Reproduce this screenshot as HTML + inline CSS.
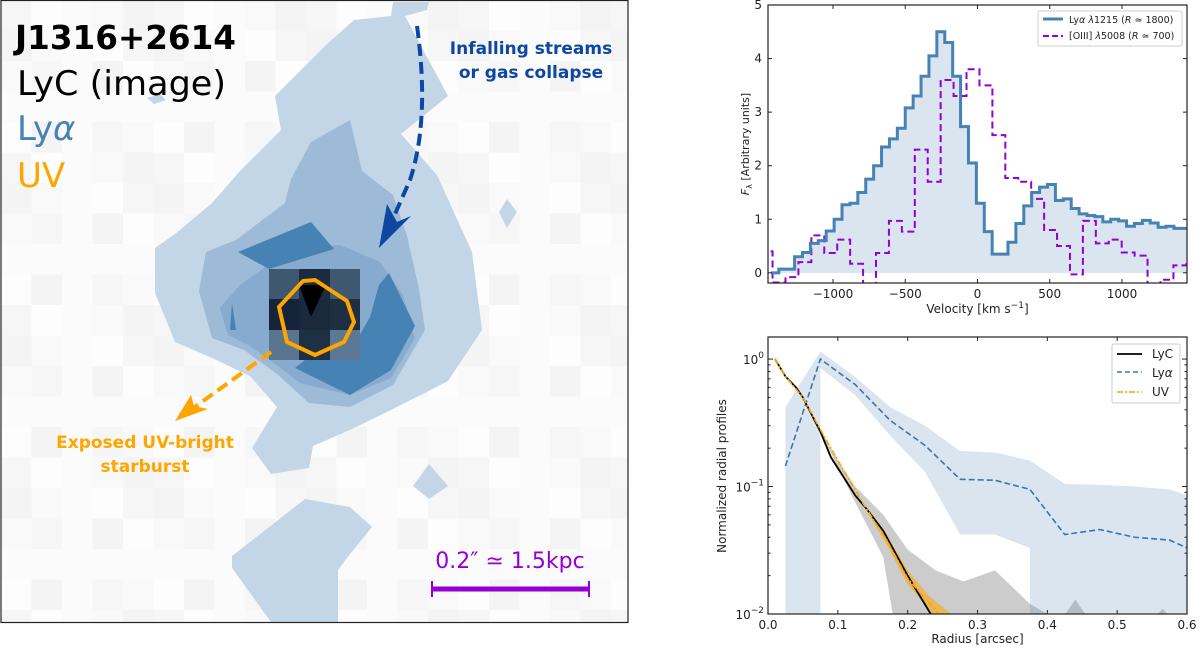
<!DOCTYPE html>
<html><head><meta charset="utf-8"><style>
html,body{margin:0;padding:0;background:#fff;}
svg{display:block;font-family:"DejaVu Sans","Liberation Sans",sans-serif;}
</style></head><body>
<svg id="fig" width="1200" height="649" viewBox="0 0 1200 649" xmlns="http://www.w3.org/2000/svg">
<defs><clipPath id="iclip"><rect x="1" y="0" width="627" height="623"/></clipPath></defs>
<g id="imgpanel">
  <rect x="1" y="0" width="627" height="623" fill="#fafafa"/>
  <g id="pix" clip-path="url(#iclip)"></g>
  <polygon fill="#c3d6e8" points="393,2 429,2 427,10 405,16 448,96 401,134 437,175 472,252 482,330 448,381 393,409 352,429 313,446 309,468 271,474 252,448 277,407 250,376 212,358 175,342 155,293 155,248 175,234 212,203 240,171 281,130 275,96 326,45 354,20 391,16"/>
  <polygon fill="#c3d6e8" points="499,212 507,199 517,212 507,228"/>
  <polygon fill="#c3d6e8" points="413,486 429,464 448,486 429,499"/>
  <polygon fill="#c3d6e8" points="232,556 305,499 350,507 372,527 350,554 338,570 338,622 271,622 232,568"/>
  <polygon fill="#c3d6e8" points="147,98 160,94 166,100 154,104"/>
  <polygon fill="#9dbad7" points="311,142 350,120 362,171 393,195 407,236 419,289 425,330 393,385 350,407 309,403 277,374 244,350 212,338 199,291 206,252 236,240 285,203 291,179"/>
  <polygon fill="#86abcf" points="268,265 300,248 340,245 380,262 403,295 415,338 391,378 350,395 300,383 270,360 248,345 228,335 220,308 240,285"/>
  <polygon fill="#4682b4" points="238,252 311,222 334,249 269,269"/>
  <polygon fill="#4682b4" points="389,273 415,326 391,370 350,395 295,368 322,346 358,338 370,317 379,285"/>
  <polygon fill="#4682b4" points="232,303 236,330 230,330"/>
  <g>
    <rect x="269" y="269" width="30" height="30" fill="#3d5870"/>
    <rect x="299" y="269" width="31" height="30" fill="#1c2c3e"/>
    <rect x="330" y="269" width="30" height="30" fill="#3d5870"/>
    <rect x="269" y="299" width="30" height="31" fill="#16243a"/>
    <rect x="299" y="299" width="31" height="31" fill="#1a2a3c"/>
    <rect x="330" y="299" width="30" height="31" fill="#1e2f42"/>
    <rect x="269" y="330" width="30" height="30" fill="#5a7590"/>
    <rect x="299" y="330" width="31" height="30" fill="#1e3044"/>
    <rect x="330" y="330" width="30" height="30" fill="#5d7892"/>
  </g>
  <polygon fill="#000" points="299,285 326,285 311,317"/>
  <polygon fill="none" stroke="#ffa500" stroke-width="4" points="315,280 347,301 354,322 344,342 315,355 287,342 279,307 303,281"/>
  <path d="M417,26 Q430,120 410,180 L395,214" fill="none" stroke="#0d47a1" stroke-width="4" stroke-dasharray="12,6"/>
  <polygon fill="#0d47a1" points="379,248 387,204 397,222 411,216"/>
  <line x1="271" y1="352" x2="192" y2="409" stroke="#ffa500" stroke-width="4" stroke-dasharray="12,6"/>
  <polygon fill="#ffa500" points="175,421 191,395 194,406 208,409"/>
  <text x="15" y="49" font-size="33" font-weight="bold" fill="#000" textLength="221" lengthAdjust="spacingAndGlyphs">J1316+2614</text>
  <text x="17" y="95" font-size="34" fill="#000" textLength="209" lengthAdjust="spacingAndGlyphs">LyC (image)</text>
  <text x="17" y="140" font-size="34" fill="#4682b4">Ly<tspan font-style="italic">α</tspan></text>
  <text x="17" y="187" font-size="34" fill="#ffa500">UV</text>
  <text font-size="17" font-weight="bold" fill="#0d47a1" text-anchor="middle"><tspan x="531" y="54">Infalling streams</tspan><tspan x="531" y="78">or gas collapse</tspan></text>
  <text font-size="17" font-weight="bold" fill="#ffa500" text-anchor="middle"><tspan x="145" y="448">Exposed UV-bright</tspan><tspan x="145" y="472">starburst</tspan></text>
  <text x="510" y="568" font-size="22" fill="#9400d3" text-anchor="middle">0.2″ ≃ 1.5kpc</text>
  <g stroke="#9400d3">
    <line x1="432" y1="589" x2="589" y2="589" stroke-width="5"/>
    <line x1="432" y1="581" x2="432" y2="597" stroke-width="2"/>
    <line x1="589" y1="581" x2="589" y2="597" stroke-width="2"/>
  </g>
  <rect x="1" y="0.5" width="627" height="622" fill="none" stroke="#222" stroke-width="1.2"/>
</g>
<g id="spec"></g>
<g id="prof"></g>
</svg>
<script>
// ---------- spectrum data ----------
const lyaStart = -1430, lyaWidth = 54.7;
const lyaFlux = [0.0,0.07,0.07,0.3,0.38,0.55,0.6,0.78,1.0,1.27,1.3,1.5,1.75,2.0,2.35,2.5,2.7,3.08,3.3,3.67,4.05,4.5,4.3,3.67,2.73,2.05,1.3,0.77,0.35,0.35,0.57,0.92,1.25,1.5,1.6,1.65,1.35,1.38,1.2,1.1,1.07,1.05,0.95,1.0,0.97,0.87,0.92,0.98,0.93,0.85,0.87,0.83,0.83];
const oiiiStart = -1508, oiiiWidth = 89.5;
const oiiiFlux = [0.4,-0.18,-0.08,0.2,0.7,0.37,0.62,0.17,-0.3,0.37,0.97,0.77,2.3,1.7,3.6,3.3,3.8,3.5,2.57,1.77,1.7,1.38,0.8,0.5,-0.03,0.97,0.55,0.62,0.38,0.32,-0.2,-0.13,0.14,0.25];
const specXTicks = [-1000,-500,0,500,1000];
const specYTicks = [0,1,2,3,4,5];
// ---------- profile data ----------
const lycR = [0.01,0.025,0.04,0.05,0.075,0.09,0.125,0.14,0.165,0.2,0.233,0.245];
const lycV = [1.0,0.73,0.6,0.5,0.27,0.17,0.085,0.068,0.045,0.02,0.01,0.008];
const uvR = [0.01,0.025,0.05,0.075,0.1,0.14,0.17,0.2,0.245,0.26];
const uvV = [1.0,0.73,0.5,0.28,0.16,0.068,0.038,0.019,0.01,0.008];
const lyaR = [0.025,0.075,0.125,0.175,0.225,0.275,0.325,0.375,0.425,0.475,0.525,0.575,0.6];
const lyaV = [0.145,1.0,0.63,0.33,0.21,0.114,0.112,0.095,0.042,0.046,0.04,0.038,0.033];
const lyaHi = [0.42,1.15,0.72,0.42,0.3,0.19,0.185,0.16,0.105,0.103,0.1,0.095,0.085];
const lyaLoR = [0.025,0.075,0.075,0.125,0.175,0.225,0.275,0.325,0.375,0.375,0.6];
const lyaLo = [0.005,0.005,0.85,0.52,0.25,0.13,0.042,0.042,0.033,0.005,0.005];
const lycHiR = [0.075,0.1,0.125,0.165,0.2,0.24,0.28,0.325,0.375,0.4,0.42,0.44,0.46,0.55,0.565,0.58];
const lycHi = [0.28,0.16,0.1,0.06,0.032,0.022,0.018,0.022,0.012,0.01,0.009,0.013,0.009,0.009,0.011,0.009];
const lycLoR = [0.075,0.125,0.165,0.18,0.6];
const lycLo = [0.27,0.075,0.028,0.009,0.005];
const uvHiR = [0.14,0.17,0.2,0.23,0.262];
const uvHi = [0.07,0.042,0.022,0.014,0.01];
const uvLoR = [0.14,0.17,0.2,0.23,0.24];
const uvLo = [0.066,0.035,0.017,0.011,0.009];
const profXTicks = [0,0.1,0.2,0.3,0.4,0.5,0.6];
const profYTicks = [1,0.1,0.01];
const profYLabels = ["0","−1","−2"];

const NS = "http://www.w3.org/2000/svg";
function mk(tag, attrs, parent){const e=document.createElementNS(NS,tag);for(const k in attrs)e.setAttribute(k,attrs[k]);parent.appendChild(e);return e;}

// background pixels (faint)
const pixG=document.getElementById('pix');
const shades=['#f6f6f6','#f9f9f9','#fdfdfd','#f4f4f4','#fbfbfb'];
for(let i=0;i<21;i++)for(let j=0;j<21;j++){
  const r=mk('rect',{x:1+i*30.5,y:j*30.5,width:30.5,height:30.5,fill:shades[(i*7+j*3+i*j)%5]},pixG);
  
  
}

// ---------- spectrum panel ----------
const S={l:768,r:1187,t:5,b:283,x0:-1450,x1:1450,y0:-0.19,y1:5};
const sx=v=>S.l+(v-S.x0)/(S.x1-S.x0)*(S.r-S.l);
const sy=v=>S.b-(v-S.y0)/(S.y1-S.y0)*(S.b-S.t);
const spec=document.getElementById('spec');
const scp=mk('clipPath',{id:'sclip'},spec);mk('rect',{x:S.l,y:S.t,width:S.r-S.l,height:S.b-S.t},scp);
function stepPath(start,w,vals){let d='';vals.forEach((v,i)=>{const a=sx(start+i*w),b=sx(start+(i+1)*w);d+=(i?'L':'M')+a+','+sy(v)+'L'+b+','+sy(v);});return d;}
const lyaD=stepPath(lyaStart,lyaWidth,lyaFlux);
const fillEnd=lyaStart+lyaFlux.length*lyaWidth;
const fill=mk('path',{d:lyaD+'L'+sx(fillEnd)+','+sy(0)+'L'+sx(lyaStart)+','+sy(0)+'Z',fill:'#dae5f0','clip-path':'url(#sclip)'},spec);


const ol=mk('path',{d:stepPath(oiiiStart,oiiiWidth,oiiiFlux),fill:'none',stroke:'#9400d3','stroke-width':2,'stroke-dasharray':'7,4','clip-path':'url(#sclip)'},spec);


const ll=mk('path',{d:lyaD,fill:'none',stroke:'#4682b4','stroke-width':3,'clip-path':'url(#sclip)'},spec);


mk('rect',{x:S.l,y:S.t,width:S.r-S.l,height:S.b-S.t,fill:'none',stroke:'#222','stroke-width':1.2},spec);
specXTicks.forEach(t=>{const x=sx(t);
  mk('line',{x1:x,x2:x,y1:S.b,y2:S.b-4,stroke:'#222'},spec);mk('line',{x1:x,x2:x,y1:S.t,y2:S.t+4,stroke:'#222'},spec);
  const tx=mk('text',{x:x,y:S.b+15,'font-size':12,'text-anchor':'middle',fill:'#222'},spec);tx.textContent=String(t).replace('-','−');
  
  });
specYTicks.forEach(t=>{const y=sy(t);
  mk('line',{x1:S.l,x2:S.l+4,y1:y,y2:y,stroke:'#222'},spec);mk('line',{x1:S.r,x2:S.r-4,y1:y,y2:y,stroke:'#222'},spec);
  const tx=mk('text',{x:S.l-6,y:y+4,'font-size':12,'text-anchor':'end',fill:'#222'},spec);tx.textContent=t;
  
  });
let t1=mk('text',{x:(S.l+S.r)/2,y:313,'font-size':12,'text-anchor':'middle',fill:'#222'},spec);
t1.innerHTML='Velocity [km s<tspan dy="-5" font-size="9">−1</tspan><tspan dy="5">]</tspan>';


let t2=mk('text',{x:0,y:0,'font-size':11,'text-anchor':'middle',fill:'#222',transform:'translate(749,144) rotate(-90)'},spec);
t2.innerHTML='<tspan font-style="italic">F</tspan><tspan font-size="8" dy="3">λ</tspan><tspan dy="-3"> [Arbitrary units]</tspan>';


const lg=mk('g',{},spec);


mk('rect',{x:1038,y:11,width:144,height:35,fill:'#fff',stroke:'#ccc',rx:2},lg);
mk('line',{x1:1043,x2:1063,y1:19,y2:19,stroke:'#4682b4','stroke-width':3},lg);
mk('line',{x1:1043,x2:1063,y1:36,y2:36,stroke:'#9400d3','stroke-width':2,'stroke-dasharray':'6,3'},lg);
let l1=mk('text',{x:1069,y:23,'font-size':9.5,fill:'#222'},lg);l1.innerHTML='Ly<tspan font-style="italic">α λ</tspan>1215 (<tspan font-style="italic">R</tspan> ≃ 1800)';
let l2=mk('text',{x:1069,y:39,'font-size':9.5,fill:'#222'},lg);l2.innerHTML='[OIII] <tspan font-style="italic">λ</tspan>5008 (<tspan font-style="italic">R</tspan> ≃ 700)';

// ---------- profile panel ----------
const P={l:768,r:1187,t:337,b:614,x0:0,x1:0.6,ly0:-2,ly1:0.173};
const px=v=>P.l+(v-P.x0)/(P.x1-P.x0)*(P.r-P.l);
const py=v=>P.b-(Math.log10(v)-P.ly0)/(P.ly1-P.ly0)*(P.b-P.t);
const prof=document.getElementById('prof');
const cp=mk('clipPath',{id:'pclip'},prof);mk('rect',{x:P.l,y:P.t,width:P.r-P.l,height:P.b-P.t},cp);
function line(xs,ys){return xs.map((x,i)=>(i?'L':'M')+px(x)+','+py(ys[i])).join('');}
function band(xh,yh,xl,yl){let d=line(xh,yh);for(let i=xl.length-1;i>=0;i--)d+='L'+px(xl[i])+','+py(yl[i]);return d+'Z';}
let e;
e=mk('path',{d:band(lyaR,lyaHi,lyaLoR,lyaLo),fill:'#dae5f0','clip-path':'url(#pclip)'},prof);


e=mk('path',{d:band(lycHiR,lycHi,lycLoR,lycLo),fill:'rgba(128,128,128,0.4)','clip-path':'url(#pclip)'},prof);


e=mk('path',{d:band(uvHiR,uvHi,uvLoR,uvLo),fill:'rgba(255,165,0,0.55)','clip-path':'url(#pclip)'},prof);


e=mk('path',{d:line(lyaR,lyaV),fill:'none',stroke:'#3b75af','stroke-width':1.6,'stroke-dasharray':'6,3','clip-path':'url(#pclip)'},prof);


e=mk('path',{d:line(lycR,lycV),fill:'none',stroke:'#000','stroke-width':1.8,'clip-path':'url(#pclip)'},prof);


e=mk('path',{d:line(uvR,uvV),fill:'none',stroke:'#ffa500','stroke-width':1.6,'stroke-dasharray':'6,2,2,2','clip-path':'url(#pclip)'},prof);


mk('rect',{x:P.l,y:P.t,width:P.r-P.l,height:P.b-P.t,fill:'none',stroke:'#222','stroke-width':1.2},prof);
profXTicks.forEach(t=>{const x=px(t);
  mk('line',{x1:x,x2:x,y1:P.b,y2:P.b-4,stroke:'#222'},prof);mk('line',{x1:x,x2:x,y1:P.t,y2:P.t+4,stroke:'#222'},prof);
  const tx=mk('text',{x:x,y:P.b+15,'font-size':12,'text-anchor':'middle',fill:'#222'},prof);tx.textContent=t.toFixed(1);
  
  });
profYTicks.forEach((t,i)=>{const y=py(t);
  mk('line',{x1:P.l,x2:P.l+5,y1:y,y2:y,stroke:'#222'},prof);mk('line',{x1:P.r,x2:P.r-5,y1:y,y2:y,stroke:'#222'},prof);
  const tx=mk('text',{x:P.l-4,y:y+5,'font-size':12,'text-anchor':'end',fill:'#222'},prof);
  tx.innerHTML='10<tspan dy="-6" font-size="9">'+profYLabels[i]+'</tspan>';
  
  });
[0.01,0.1].forEach(d=>{for(let k=2;k<=9;k++){const v=d*k;if(py(v)<P.t)continue;const y=py(v);
  mk('line',{x1:P.l,x2:P.l+2.5,y1:y,y2:y,stroke:'#222'},prof);mk('line',{x1:P.r,x2:P.r-2.5,y1:y,y2:y,stroke:'#222'},prof);}});
e=mk('text',{x:(P.l+P.r)/2,y:643,'font-size':12,'text-anchor':'middle',fill:'#222'},prof);e.textContent='Radius [arcsec]';


e=mk('text',{x:0,y:0,'font-size':12,'text-anchor':'middle',fill:'#222',transform:'translate(726,476) rotate(-90)'},prof);e.textContent='Normalized radial profiles';


const lg2=mk('g',{},prof);


mk('rect',{x:1112,y:344,width:68,height:59,fill:'#fff',stroke:'#ccc',rx:2},lg2);
mk('line',{x1:1117,x2:1142,y1:354,y2:354,stroke:'#000','stroke-width':1.8},lg2);
mk('line',{x1:1117,x2:1142,y1:372,y2:372,stroke:'#3b75af','stroke-width':1.6,'stroke-dasharray':'5,3'},lg2);
mk('line',{x1:1117,x2:1142,y1:392,y2:392,stroke:'#ffa500','stroke-width':1.6,'stroke-dasharray':'6,2,2,2'},lg2);
e=mk('text',{x:1152,y:358,'font-size':12,fill:'#222'},lg2);e.textContent='LyC';
e=mk('text',{x:1152,y:377,'font-size':12,fill:'#222'},lg2);e.innerHTML='Ly<tspan font-style="italic">α</tspan>';
e=mk('text',{x:1152,y:396,'font-size':12,fill:'#222'},lg2);e.textContent='UV';
</script>
</body></html>
